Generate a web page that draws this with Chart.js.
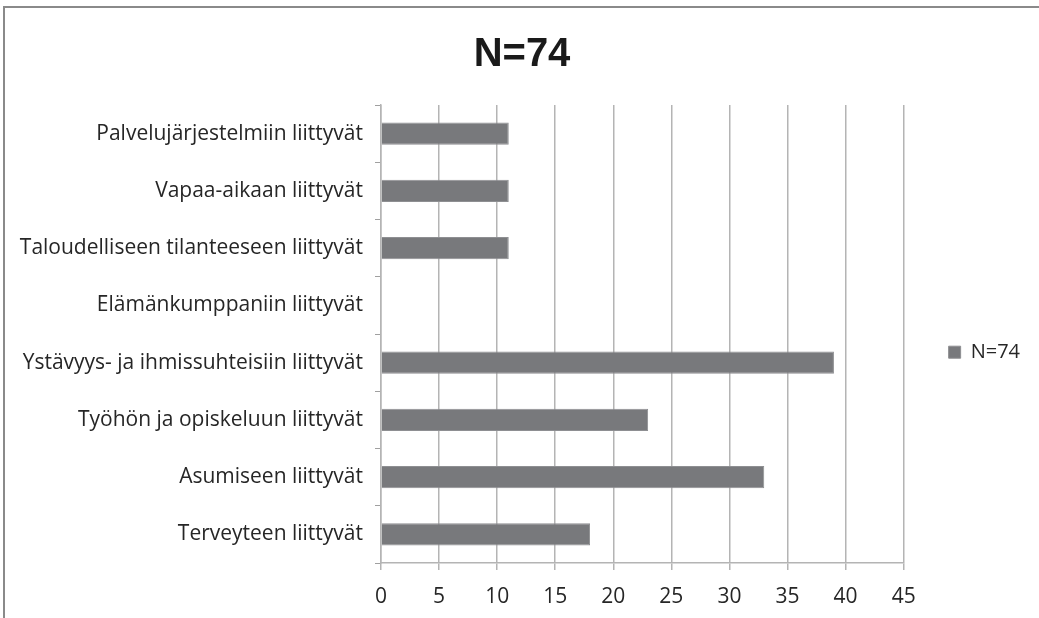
<!DOCTYPE html>
<html>
<head>
<meta charset="utf-8">
<script src="https://cdn.jsdelivr.net/npm/chart.js@4/dist/chart.umd.min.js"></script>
<style>
  html, body { margin: 0; padding: 0; background: #fff; overflow: hidden; }
  #wrap { position: relative; width: 1039px; height: 618px; }
  #frame { position: absolute; left: 3px; top: 6px; width: 1100px; height: 700px;
           border-left: 2px solid #8a8a8a; border-top: 2px solid #8a8a8a; pointer-events: none; }
  canvas { position: absolute; left: 0; top: 0; }
</style>
</head>
<body>
<div id="wrap">
  <canvas id="c" width="1039" height="618"></canvas>
  <div id="frame"></div>
</div>
<script>
const categories = [
  "Palvelujärjestelmiin liittyvät",
  "Vapaa-aikaan liittyvät",
  "Taloudelliseen tilanteeseen liittyvät",
  "Elämänkumppaniin liittyvät",
  "Ystävyys- ja ihmissuhteisiin liittyvät",
  "Työhön ja opiskeluun liittyvät",
  "Asumiseen liittyvät",
  "Terveyteen liittyvät"
];
const seriesName = "N=74";
const values = [11, 11, 11, 0, 39, 23, 33, 18];
const titleText = "N=74";
const xMin = 0, xMax = 45, xStep = 5;

const FONT = "'Open Sans', 'Liberation Sans', Arial, sans-serif";
const gridColor = "#b4b4b4";

new Chart(document.getElementById('c'), {
  type: 'bar',
  data: {
    labels: categories,
    datasets: [{
      label: seriesName,
      data: values,
      backgroundColor: '#78797c',
      borderColor: '#8e8f92',
      borderWidth: 1,
      categoryPercentage: 1,
      barPercentage: 0.39
    }]
  },
  options: {
    indexAxis: 'y',
    responsive: false,
    animation: false,
    layout: { padding: { left: 14, right: 9, top: 0, bottom: 0 } },
    plugins: {
      title: {
        display: true,
        text: titleText,
        color: '#1a1a1a',
        font: { family: "'Liberation Sans', Arial, sans-serif", size: 40, weight: 'bold', lineHeight: 1.2 },
        padding: { top: 31, bottom: 26 }
      },
      legend: {
        position: 'right',
        title: { display: true, text: '', font: { size: 12, lineHeight: 1.2 }, padding: { top: 0, bottom: 72 } },
        labels: {
          color: '#262626',
          font: { family: FONT, size: 20 },
          boxWidth: 12,
          boxHeight: 12,
          padding: 45
        }
      },
      tooltip: { enabled: false }
    },
    scales: {
      x: {
        min: xMin, max: xMax,
        ticks: { stepSize: xStep, color: '#262626', font: { family: FONT, size: 21 }, padding: 14 },
        grid: { color: gridColor, lineWidth: 1.5, tickLength: 7, drawTicks: true },
        border: { color: gridColor, width: 1.5 },
        afterFit: (s) => { s.height = 55; }
      },
      y: {
        ticks: { color: '#262626', font: { family: FONT, size: 21 }, padding: 12 },
        grid: { drawOnChartArea: false, color: '#a0a0a0', tickLength: 6, offset: true },
        border: { color: gridColor, width: 1.5 },
        afterFit: (s) => { s.width = 367; }
      }
    }
  }
});
</script>
</body>
</html>
